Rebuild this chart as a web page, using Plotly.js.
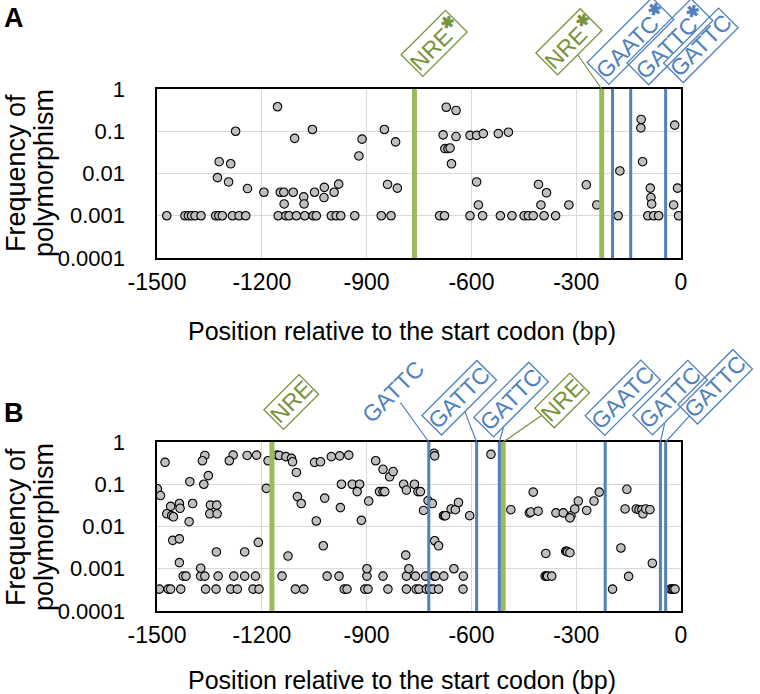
<!DOCTYPE html>
<html>
<head>
<meta charset="utf-8">
<script src="https://cdn.plot.ly/plotly-3.0.1.min.js"></script>
<style>html,body{margin:0;padding:0;background:#fff;}#chart{width:760px;height:694px;}</style>
</head>
<body>
<div id="chart"></div>
<script>
// ---------- data ----------
const xTickVals = [-1500, -1200, -900, -600, -300, 0];
const xTickText = ["-1500", "-1200", "-900", "-600", "-300", "0"];
const yTickVals = [1, 0.1, 0.01, 0.001, 0.0001];
const yTickText = ["1", "0.1", "0.01", "0.001", "0.0001"];

// Panel A points
const aX = [
  -1472,-1420,-1410,-1401,-1391,-1374,-1332,-1323,-1313,-1284,-1265,-1246,-1153,-1131,-1122,-1101,-1077,-1053,-1044,-1001,-987,-974,-934,-858,-830,-691,-677,-604,-568,-517,-484,-449,-437,-423,-392,-359,-180,-95,-78,-64,-7,
  -1155,-1275,-1106,-1055,-913,-922,-849,-817,-1322,-1289,-1327,-1295,-1241,-1194,-1147,-1137,-1110,-1136,-1080,-1079,-1049,-1021,-1022,-993,-980,-840,-812,
  -672,-644,-681,-644,-604,-585,-566,-523,-494,-676,-667,-661,-657,-585,-408,-385,-580,-401,-321,-271,-241,-175,-114,-115,-110,-18,-88,-86,-84,-10,-21
];
const aY = [
  0.001,0.001,0.001,0.001,0.001,0.001,0.001,0.001,0.001,0.001,0.001,0.001,0.001,0.001,0.001,0.001,0.001,0.001,0.001,0.001,0.001,0.001,0.001,0.001,0.001,0.001,0.001,0.001,0.001,0.001,0.001,0.001,0.001,0.001,0.001,0.001,0.001,0.001,0.001,0.001,0.001,
  0.38,0.10,0.068,0.11,0.065,0.026,0.11,0.056,0.019,0.017,0.008,0.0063,0.0044,0.0036,0.0036,0.0036,0.0036,0.0019,0.0028,0.0019,0.0036,0.0047,0.0027,0.0036,0.0056,0.0055,0.0045,
  0.37,0.31,0.082,0.075,0.08,0.08,0.088,0.088,0.095,0.039,0.039,0.040,0.017,0.0063,0.0055,0.0035,0.0018,0.0018,0.0018,0.0054,0.0018,0.0115,0.19,0.12,0.019,0.14,0.0045,0.0027,0.0019,0.0045,0.0018
];

// Panel B points
const bX = [
  -1493,-1468,-1461,-1432,-1361,-1331,-1289,-1270,-1225,-1208,-1104,-1080,-964,-956,-905,-896,-839,-786,-758,-750,-729,-720,-710,-694,-624,-196,-30,-25,-21,-17,
  -1425,-1417,-1375,-1363,-1325,-1280,-1249,-1218,-1142,-1013,-979,-899,-853,-786,-760,-731,-707,-703,-679,-623,-389,-385,-382,-370,-150,
  -1375,-899,-779,-650,
  -1477,-1363,-1370,-1282,-1293,-1242,-1215,-1182,-1156,-1150,-1131,-1115,-1112,-1101,-1049,-1032,-1001,-977,-951,-874,-853,-834,-824,
  -1406,-1353,-1366,-1499,-1490,-1461,-1436,-1434,-1472,-1458,-1453,-1398,-1347,-1329,-1349,-1328,-1408,-1187,-1098,-1087,-1020,-1044,
  -972,-941,-920,-927,-863,-853,-848,-794,-763,-786,-753,-746,-894,-975,-915,-724,-712,-737,-680,-676,-674,-658,-646,-637,-605,-707,-705,-544,
  -1455,-1436,-1210,-1330,-1249,-1125,-1024,-1436,-788,-705,-694,
  -423,-487,-434,-430,-409,-358,-337,-315,-318,-304,-294,-270,-249,-234,-155,-160,-128,-120,-112,-109,-101,-89,
  -387,-330,-327,-325,-318,-172,-82
];
const bY = [
  0.00033,0.00033,0.00033,0.00033,0.00033,0.00033,0.00033,0.00033,0.00033,0.00033,0.00033,0.00033,0.00033,0.00033,0.00033,0.00033,0.00033,0.00033,0.00033,0.00033,0.00033,0.00033,0.00033,0.00033,0.00033,0.00033,0.00033,0.00033,0.00033,0.00033,
  0.00067,0.00067,0.00067,0.00067,0.00067,0.00067,0.00067,0.00067,0.00067,0.00067,0.00067,0.00067,0.00067,0.00067,0.00067,0.00067,0.00067,0.00067,0.00067,0.00067,0.00067,0.00067,0.00067,0.00067,0.00066,
  0.00103,0.001,0.001,0.001,
  0.33,0.48,0.36,0.49,0.36,0.48,0.49,0.36,0.49,0.48,0.45,0.41,0.34,0.19,0.33,0.34,0.45,0.47,0.49,0.36,0.226,0.15,0.2,
  0.115,0.16,0.10,0.078,0.054,0.03,0.035,0.027,0.02,0.018,0.017,0.035,0.032,0.032,0.020,0.020,0.013,0.08,0.051,0.035,0.047,0.0135,
  0.10,0.10,0.10,0.067,0.067,0.067,0.067,0.10,0.10,0.073,0.067,0.067,0.04,0.028,0.014,0.041,0.035,0.024,0.018,0.018,0.018,0.026,0.025,0.037,0.018,0.54,0.47,0.51,
  0.0047,0.0051,0.0042,0.0025,0.0025,0.0020,0.0035,0.0014,0.0021,0.0046,0.0035,
  0.065,0.025,0.021,0.022,0.023,0.021,0.021,0.018,0.016,0.026,0.04,0.024,0.04,0.065,0.076,0.026,0.026,0.025,0.025,0.02,0.026,0.025,
  0.0023,0.0026,0.0026,0.0025,0.0024,0.0031,0.00135
];

// Motif positions (bp) and labels
const aNrePos = [-763, -227];
const aNreLabels = ["NRE*", "NRE*"];
const aGatcPos = [-196, -144, -44];
const aGatcLabels = ["GAATC*", "GATTC*", "GATTC"];
const bNrePos = [-1171, -509];
const bNreLabels = ["NRE", "NRE"];
const bGatcPos = [-722, -585, -520, -217, -59, -44];
const bGatcLabels = ["GATTC", "GATTC", "GATTC", "GAATC", "GATTC", "GATTC"];

// ---------- styles ----------
const FONT = "Liberation Sans, Arial, sans-serif";
const GREEN_LINE = "#9BBB59", BLUE_LINE = "#4F81BD";
const GREEN_TXT = "#77933C", BLUE_TXT = "#4F81BD";

// label placement offsets in pixels (centre of label relative to top of line): [dx, dy, leaderVisible, boxed]
const aNreOff = [[20,-46,false],[-33,-47,true]];
const aGatcOff = [[18,-48,false],[39,-47,false],[35,-44,false]];
const bNreOff = [[20,-40,false],[59,-41,true]];
const bGatcOff = [[-36,-50,true,false],[-17,-44,true],[12,-42,true],[18,-44,false],[10,-44,true],[50,-55,true]];

function fmtLabel(s){
  return s.replace("*", '<sup><b>\u2731</b></sup>');
}
function makeAnn(xref, yref, pos, text, off, txtColor){
  const boxed = off.length < 4 || off[3] !== false;
  return {
    xref: xref, yref: yref, x: pos, y: 1,
    text: fmtLabel(text), textangle: -45,
    font: {family: FONT, size: 23, color: txtColor},
    bordercolor: boxed ? txtColor : "rgba(0,0,0,0)", borderwidth: boxed ? 1.3 : 0, borderpad: 0,
    bgcolor: "rgba(255,255,255,0)",
    showarrow: true, arrowhead: 0, arrowwidth: 1.2, standoff: 0, startstandoff: 0,
    arrowcolor: off[2] ? txtColor : "rgba(0,0,0,0)",
    axref: "pixel", ayref: "pixel", ax: off[0], ay: off[1]
  };
}

const marker = {size: 8.5, color: "#BFBFBF", line: {color: "#000", width: 1.1}};
const traces = [
  {x: aX, y: aY, xaxis: "x", yaxis: "y", type: "scatter", mode: "markers", marker: marker, hoverinfo: "none"},
  {x: bX, y: bY, xaxis: "x2", yaxis: "y2", type: "scatter", mode: "markers", marker: marker, hoverinfo: "none"}
];

const W = 760, H = 694;
const xDom = [157/W, 681/W];
const yDomA = [1 - 258/H, 1 - 89/H];
const yDomB = [1 - 611/H, 1 - 442/H];

function xAxis(anchor){
  return {
    domain: xDom, anchor: anchor, range: [-1500, 0],
    tickvals: xTickVals, ticktext: xTickText,
    tickfont: {family: FONT, size: 23, color: "#000"},
    showgrid: true, gridcolor: "#D9D9D9", gridwidth: 1,
    showline: true, linecolor: "#000", linewidth: 1.6, mirror: true,
    zeroline: false, ticks: "", ticklabelstandoff: 3, fixedrange: true
  };
}
function yAxis(dom, anchor){
  return {
    domain: dom, anchor: anchor, type: "log", range: [-4, 0],
    tickvals: yTickVals, ticktext: yTickText,
    tickfont: {family: FONT, size: 22, color: "#000"},
    showgrid: true, gridcolor: "#D9D9D9", gridwidth: 1,
    showline: true, linecolor: "#000", linewidth: 1.6, mirror: true,
    zeroline: false, ticks: "", ticklabelstandoff: 26, fixedrange: true
  };
}

const shapes = [];
function addLines(pos, xref, yref, color, width){
  pos.forEach(p => shapes.push({type: "line", xref: xref, yref: yref, x0: p, x1: p, y0: 0, y1: 1,
    line: {color: color, width: width}, layer: "above"}));
}
addLines(aNrePos, "x", "y domain", GREEN_LINE, 5);
addLines(aGatcPos, "x", "y domain", BLUE_LINE, 3);
addLines(bNrePos, "x2", "y2 domain", GREEN_LINE, 5);
addLines(bGatcPos, "x2", "y2 domain", BLUE_LINE, 3);

const annotations = [];
aNrePos.forEach((p,i) => annotations.push(makeAnn("x", "y domain", p, aNreLabels[i], aNreOff[i], GREEN_TXT)));
aGatcPos.forEach((p,i) => annotations.push(makeAnn("x", "y domain", p, aGatcLabels[i], aGatcOff[i], BLUE_TXT)));
bNrePos.forEach((p,i) => annotations.push(makeAnn("x2", "y2 domain", p, bNreLabels[i], bNreOff[i], GREEN_TXT)));
bGatcPos.forEach((p,i) => annotations.push(makeAnn("x2", "y2 domain", p, bGatcLabels[i], bGatcOff[i], BLUE_TXT)));

function paperText(text, px, py, size, angle, bold){
  return {xref: "paper", yref: "paper", x: px / W, y: 1 - py / H, xanchor: "center", yanchor: "middle",
    text: bold ? "<b>" + text + "</b>" : text, showarrow: false, textangle: angle || 0,
    font: {family: FONT, size: size, color: "#000"}};
}
const xTitle = "Position relative to the start codon (bp)";
annotations.push(paperText(xTitle, 402, 331, 25, 0));
annotations.push(paperText(xTitle, 402, 680, 25, 0));
[[173],[527]].forEach(c => {
  annotations.push(paperText("Frequency of", 16, c[0], 27, -90));
  annotations.push(paperText("polymorphism", 44, c[0], 27, -90));
});
annotations.push(paperText("A", 14, 18, 27, 0, true));
annotations.push(paperText("B", 14, 413, 27, 0, true));

const layout = {
  width: W, height: H, margin: {l: 0, r: 0, t: 0, b: 0},
  paper_bgcolor: "#fff", plot_bgcolor: "#fff", showlegend: false,
  xaxis: xAxis("y"), yaxis: yAxis(yDomA, "x"),
  xaxis2: xAxis("y2"), yaxis2: yAxis(yDomB, "x2"),
  shapes: shapes, annotations: annotations,
  font: {family: FONT}
};
Plotly.newPlot("chart", traces, layout, {displayModeBar: false, staticPlot: true});
</script>
</body>
</html>
